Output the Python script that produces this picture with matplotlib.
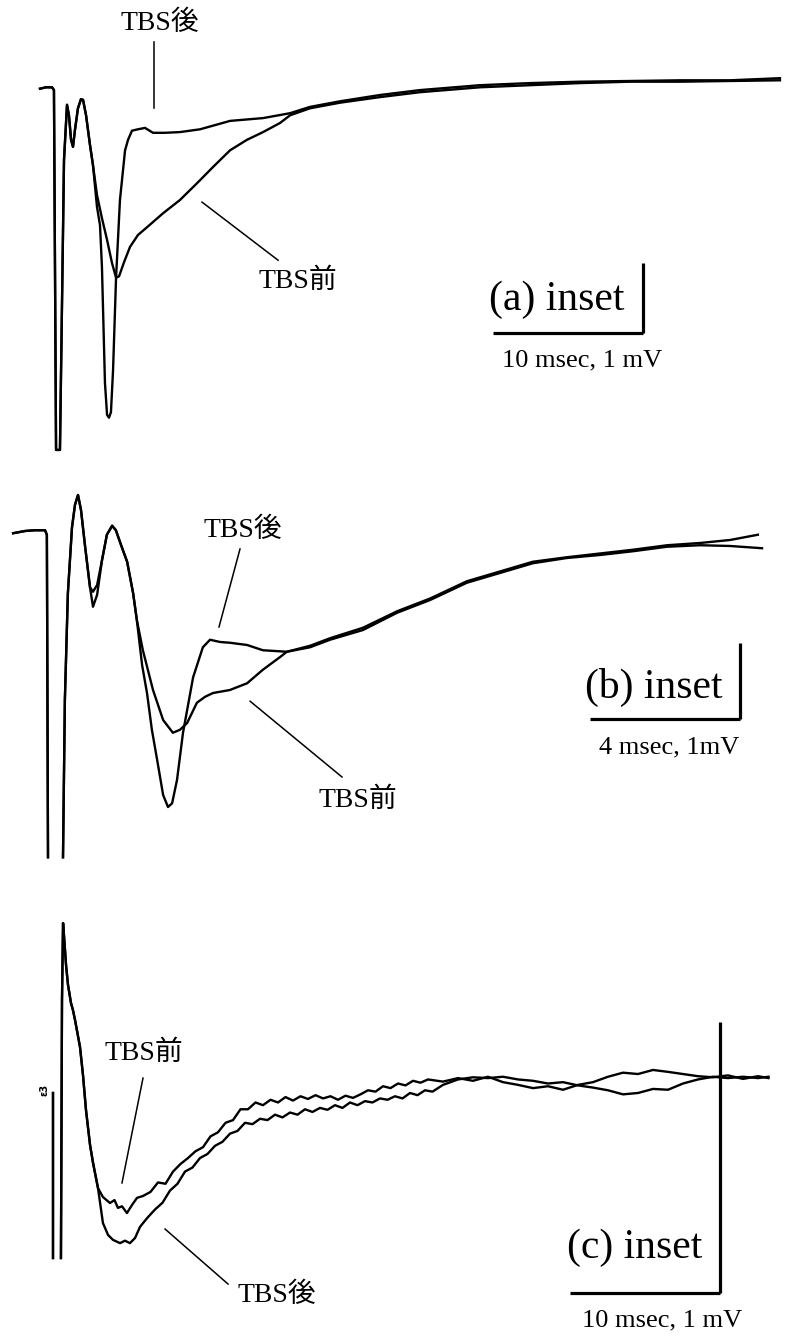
import numpy as np
import matplotlib
matplotlib.use("Agg")
import matplotlib.pyplot as plt

nan = np.nan

# -----------------------------
# Panel (a): time [ms], potential [mV]
# -----------------------------
a_pre_t = [0, 0.4, 0.8, 0.93, 1.07, 1.33, 1.47, 1.6, 1.8, 1.93, 2.07, 2.2, 2.33, 2.53, 2.73, 2.87,
           3.07, 3.33, 3.53, 3.8, 4.13, 4.47, 4.8, 5.07, 5.27, 5.6, 6.0, 6.53, 7.13, 8.2, 9.33,
           10.47, 11.53, 12.67, 13.8, 14.87, 16.0, 16.67, 18.0, 20.0, 22.67, 25.33, 29.33, 32.67,
           36.0, 39.33, 42.67, 46.0, 49.33]
a_pre_v = [-0.01, 0.01, 0.01, -0.03, -5.17, -5.17, -3.03, -1.03, -0.24, -0.39, -0.74, -0.84, -0.6,
           -0.29, -0.16, -0.17, -0.39, -0.81, -1.1, -1.53, -1.86, -2.17, -2.5, -2.71, -2.69, -2.49,
           -2.27, -2.1, -1.99, -1.79, -1.6, -1.36, -1.13, -0.89, -0.74, -0.63, -0.5, -0.39, -0.29,
           -0.21, -0.13, -0.06, 0.01, 0.04, 0.07, 0.09, 0.09, 0.1, 0.11]

a_post_t = [0, 0.4, 0.8, 0.93, 1.07, 1.33, 1.47, 1.6, 1.8, 1.93, 2.07, 2.2, 2.33, 2.53, 2.73, 2.87,
            3.07, 3.33, 3.53, 3.8, 4.0, 4.13, 4.33, 4.47, 4.6, 4.73, 4.87, 5.07, 5.33, 5.67, 5.87,
            6.13, 6.53, 7.0, 7.53, 8.33, 9.33, 10.67, 12.67, 14.87, 16.67, 18.0, 20.0, 22.67,
            25.33, 29.33, 32.67, 36.0, 39.33, 42.67, 46.0, 49.33]
a_post_v = [-0.01, 0.01, 0.01, -0.03, -5.17, -5.17, -3.03, -1.03, -0.24, -0.39, -0.74, -0.84, -0.6,
            -0.29, -0.16, -0.17, -0.39, -0.81, -1.1, -1.7, -1.96, -2.56, -4.21, -4.67, -4.71, -4.63,
            -4.03, -2.71, -1.6, -0.89, -0.74, -0.61, -0.59, -0.57, -0.64, -0.64, -0.63, -0.59,
            -0.47, -0.43, -0.36, -0.27, -0.19, -0.1, -0.03, 0.04, 0.07, 0.09, 0.1, 0.11, 0.11, 0.14]

# -----------------------------
# Panel (b)
# -----------------------------
b_pre_t = [0.03, 0.35, 0.61, 0.88, 0.93, 0.96, nan, 1.36, 1.41, 1.49, 1.6, 1.68, 1.76, 1.84, 1.95,
           2.08, 2.16, 2.27, 2.4, 2.53, 2.67, 2.77, 2.91, 3.07, 3.23, 3.33, 3.49, 3.76, 4.03, 4.29,
           4.48, 4.67, 4.93, 5.15, 5.36, 5.81, 6.27, 6.69, 7.15, 7.33, 7.95, 8.48, 9.36, 10.27,
           11.15, 12.13, 13.01, 13.89, 14.8, 15.68, 16.56, 17.47, 18.35, 19.15, 20.0]
b_pre_v = [-0.03, 0.0, 0.01, 0.01, -0.05, -4.35, nan, -4.35, -2.25, -0.83, 0.05, 0.35, 0.48, 0.28,
           -0.21, -0.75, -1.01, -0.85, -0.39, -0.05, 0.07, 0.01, -0.19, -0.41, -0.83, -1.19, -1.59,
           -2.12, -2.52, -2.69, -2.65, -2.56, -2.29, -2.21, -2.16, -2.12, -2.03, -1.85, -1.68,
           -1.61, -1.55, -1.45, -1.32, -1.09, -0.92, -0.69, -0.56, -0.43, -0.36, -0.32, -0.27,
           -0.21, -0.19, -0.2, -0.23]

b_post_t = [0.03, 0.35, 0.61, 0.88, 0.93, 0.96, nan, 1.36, 1.41, 1.49, 1.6, 1.68, 1.76, 1.84, 1.95,
            2.08, 2.16, 2.27, 2.4, 2.53, 2.67, 2.77, 2.91, 3.07, 3.23, 3.33, 3.47, 3.6, 3.73, 3.87,
            4.03, 4.16, 4.27, 4.4, 4.56, 4.83, 5.09, 5.28, 5.55, 5.81, 6.27, 6.69, 7.33, 7.95,
            8.48, 9.36, 10.27, 11.15, 12.13, 13.01, 13.89, 14.8, 15.68, 16.56, 17.47, 18.35,
            19.15, 19.89]
b_post_v = [-0.03, 0.0, 0.01, 0.01, -0.05, -4.35, nan, -4.35, -2.25, -0.83, 0.05, 0.35, 0.48, 0.28,
            -0.21, -0.75, -0.81, -0.72, -0.39, -0.05, 0.07, 0.01, -0.19, -0.41, -0.83, -1.19,
            -1.79, -2.16, -2.65, -3.05, -3.52, -3.68, -3.63, -3.32, -2.69, -1.95, -1.55, -1.45,
            -1.48, -1.49, -1.52, -1.59, -1.61, -1.53, -1.43, -1.29, -1.07, -0.9, -0.67, -0.54,
            -0.41, -0.35, -0.3, -0.25, -0.19, -0.16, -0.12, -0.05]

# -----------------------------
# Panel (c)
# -----------------------------
c_pre_t = [0, 0, nan, 0.53, 0.6, 0.67, 0.73, 0.87, 1.0, 1.2, 1.33, 1.47, 1.8, 2.0, 2.2, 2.47, 2.67,
           3.0, 3.33, 3.8, 4.1, 4.33, 4.6, 4.93, 5.27, 5.6, 6.0, 6.5, 7.0, 7.5, 8.0, 8.5, 9.0, 9.5,
           10.0, 10.5, 11.0, 11.5, 12.0, 12.5, 13.0, 13.5, 14.0, 14.5, 15.0, 15.5, 16.0, 16.5,
           17.0, 17.5, 18.0, 18.5, 19.0, 19.5, 20.0, 20.5, 21.0, 21.5, 22.0, 22.5, 23.0, 23.5,
           24.0, 24.5, 25.0, 26.0, 27.0, 28.0, 29.0, 30.0, 31.0, 32.0, 33.0, 34.0, 35.0, 36.0,
           37.0, 38.0, 39.0, 40.0, 41.0, 42.0, 43.0, 44.0, 45.0, 46.0, 47.0, 47.7]
c_pre_v = [0, -0.609, nan, -0.609, 0.343, 0.627, 0.583, 0.472, 0.399, 0.332, 0.306, 0.269, 0.17,
           0.066, -0.063, -0.192, -0.258, -0.351, -0.384, -0.406, -0.395, -0.424, -0.418, -0.443,
           -0.413, -0.387, -0.38, -0.365, -0.33, -0.335, -0.29, -0.262, -0.24, -0.215, -0.2, -0.16,
           -0.145, -0.11, -0.1, -0.06, -0.06, -0.035, -0.045, -0.025, -0.035, -0.015, -0.028,
           -0.012, -0.022, -0.008, -0.02, -0.012, -0.025, -0.01, -0.018, -0.005, 0.01, 0.005,
           0.025, 0.018, 0.035, 0.028, 0.045, 0.038, 0.05, 0.042, 0.055, 0.045, 0.06, 0.04, 0.03,
           0.018, 0.025, 0.012, 0.03, 0.04, 0.06, 0.075, 0.07, 0.085, 0.078, 0.07, 0.062, 0.058,
           0.065, 0.052, 0.062, 0.055]

c_post_t = [0, 0, nan, 0.53, 0.6, 0.67, 0.73, 0.87, 1.0, 1.2, 1.33, 1.47, 1.8, 2.0, 2.2, 2.47, 2.67,
            3.0, 3.33, 3.67, 4.0, 4.47, 4.8, 5.13, 5.47, 5.8, 6.3, 6.8, 7.3, 7.8, 8.3, 8.8, 9.3,
            9.8, 10.3, 10.8, 11.3, 11.8, 12.3, 12.8, 13.3, 13.8, 14.3, 14.8, 15.3, 15.8, 16.3,
            16.8, 17.3, 17.8, 18.3, 18.8, 19.3, 19.8, 20.3, 20.8, 21.3, 21.8, 22.3, 22.8, 23.3,
            23.8, 24.3, 24.8, 25.3, 26.0, 27.0, 28.0, 29.0, 30.0, 31.0, 32.0, 33.0, 34.0, 35.0,
            36.0, 37.0, 38.0, 39.0, 40.0, 41.0, 42.0, 43.0, 44.0, 45.0, 46.0, 47.0, 47.7]
c_post_v = [0, -0.609, nan, -0.609, 0.343, 0.627, 0.583, 0.472, 0.399, 0.332, 0.306, 0.269, 0.17,
            0.066, -0.063, -0.192, -0.258, -0.351, -0.48, -0.524, -0.542, -0.554, -0.545, -0.554,
            -0.535, -0.494, -0.46, -0.43, -0.405, -0.36, -0.335, -0.29, -0.275, -0.24, -0.225,
            -0.195, -0.18, -0.15, -0.14, -0.11, -0.115, -0.095, -0.1, -0.08, -0.09, -0.072, -0.08,
            -0.06, -0.07, -0.055, -0.062, -0.045, -0.055, -0.035, -0.045, -0.03, -0.035, -0.02,
            -0.025, -0.012, -0.02, 0.0, -0.008, 0.01, 0.005, 0.03, 0.05, 0.058, 0.055, 0.06, 0.05,
            0.045, 0.035, 0.04, 0.028, 0.02, 0.01, -0.005, 0.0, 0.015, 0.012, 0.035, 0.05, 0.06,
            0.055, 0.06, 0.055, 0.06]

labels = ["TBS前", "TBS後"]
inset_titles = ["(a) inset", "(b) inset", "(c) inset"]
scale_texts = ["10 msec, 1 mV", "4 msec, 1mV", "10 msec, 1 mV"]
scale_ms = [10, 4, 10]

# -----------------------------
# Layout
# -----------------------------
W, H = 785, 1337
fig = plt.figure(figsize=(W / 100, H / 100), dpi=100)
fig.patch.set_facecolor("white")

label_font = ["Liberation Serif", "Noto Sans CJK JP"]
serif = ["Liberation Serif", "DejaVu Serif"]
trace_kw = dict(color="black", lw=1.7, solid_joinstyle="round")
pointer_kw = dict(color="black", lw=1.1, clip_on=False)
bar_kw = dict(color="black", lw=2.3, solid_capstyle="butt", clip_on=False)


def make_axes(top_px, bottom_px, xlim, ylim):
    ax = fig.add_axes([0, 1 - bottom_px / H, 1, (bottom_px - top_px) / H])
    ax.set_xlim(*xlim)
    ax.set_ylim(*ylim)
    ax.axis("off")
    return ax


def scale_bar(ax, corner_t, corner_v, length_ms, title, text, title_xy, text_xy):
    ax.plot([corner_t - length_ms, corner_t], [corner_v, corner_v], **bar_kw)
    ax.plot([corner_t, corner_t], [corner_v, corner_v + 1.0], **bar_kw)
    ax.text(*title_xy, title, fontsize=30, family=serif, ha="center", va="center")
    ax.text(*text_xy, text, fontsize=19, family=serif, ha="center", va="center")


# ---- (a)
ax_a = make_axes(0, 470, (-2.667, 49.667), (-5.457, 1.257))
ax_a.plot(a_pre_t, a_pre_v, **trace_kw)
ax_a.plot(a_post_t, a_post_v, **trace_kw)
ax_a.text(8.0, 0.93, labels[1], fontsize=20, family=label_font, ha="center", va="center")
ax_a.plot([7.6, 7.6], [0.66, -0.29], **pointer_kw)
ax_a.text(17.2, -2.76, labels[0], fontsize=20, family=label_font, ha="center", va="center")
ax_a.plot([10.8, 15.87], [-1.63, -2.46], **pointer_kw)
scale_bar(ax_a, 40.2, -3.5, scale_ms[0], inset_titles[0], scale_texts[0],
          (34.47, -3.03), (36.13, -3.89))

# ---- (b)
ax_b = make_axes(470, 880, (-0.32, 20.613), (-4.653, 0.813))
ax_b.plot(b_pre_t, b_pre_v, **trace_kw)
ax_b.plot(b_post_t, b_post_v, **trace_kw)
ax_b.text(6.16, 0.01, labels[1], fontsize=20, family=label_font, ha="center", va="center")
ax_b.plot([6.08, 5.52], [-0.24, -1.28], **pointer_kw)
ax_b.text(9.23, -3.59, labels[0], fontsize=20, family=label_font, ha="center", va="center")
ax_b.plot([6.35, 8.8], [-2.27, -3.28], **pointer_kw)
scale_bar(ax_b, 19.4, -2.5, scale_ms[1], inset_titles[1], scale_texts[1],
          (17.12, -2.08), (17.52, -2.89))

# ---- (c)
ax_c = make_axes(880, 1337, (-3.533, 48.8), (-0.9004, 0.786))
ax_c.plot(c_pre_t, c_pre_v, **trace_kw)
ax_c.plot(c_post_t, c_post_v, **trace_kw)
ax_c.text(-0.55, 0.01, "ε3", fontsize=7, fontweight="bold", rotation=90,
          ha="center", va="center")
ax_c.text(6.07, 0.148, labels[0], fontsize=20, family=label_font, ha="center", va="center")
ax_c.plot([6.0, 4.6], [0.055, -0.332], **pointer_kw)
ax_c.text(14.93, -0.745, labels[1], fontsize=20, family=label_font, ha="center", va="center")
ax_c.plot([7.47, 11.67], [-0.502, -0.705], **pointer_kw)
# 1 mV bar in (c) drawn with the same helper, vertical scale from the trace units
scale_bar(ax_c, 44.47, -0.738, scale_ms[2], inset_titles[2], scale_texts[2],
          (38.8, -0.572), (40.6, -0.838))

fig.savefig("out.png", dpi=100, facecolor="white")
